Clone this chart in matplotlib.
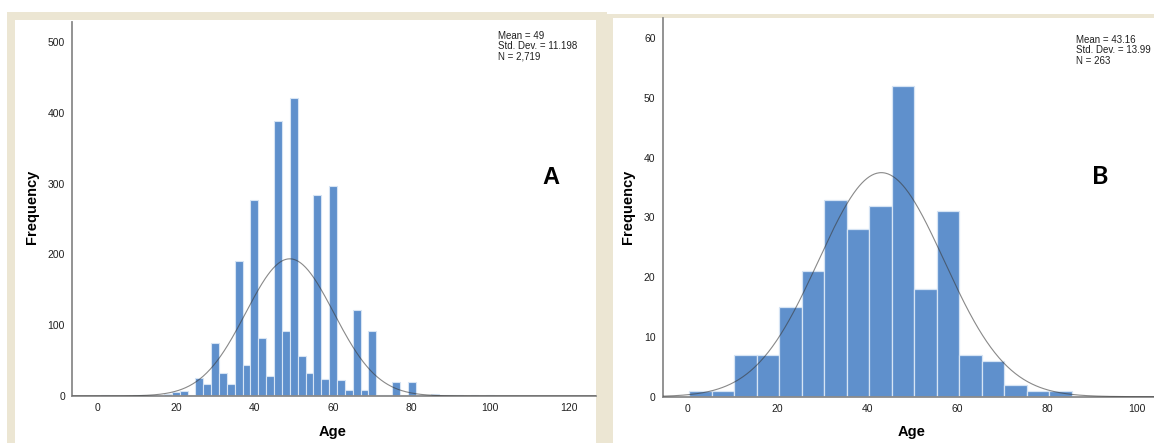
import numpy as np
import matplotlib
matplotlib.use("Agg")
import matplotlib.pyplot as plt
from matplotlib.patches import Rectangle

plt.rcParams['font.family'] = ['Liberation Sans', 'DejaVu Sans']

# ---------------- data ----------------
# Panel A: bins of width 2, centred on even ages
a_centers = [2, 10, 12, 14, 16, 18, 20, 22, 24, 26, 28, 30, 32, 34, 36, 38, 40, 42, 44,
             46, 48, 50, 52, 54, 56, 58, 60, 62, 64, 66, 68, 70, 72, 74, 76, 78, 80,
             82, 84, 86, 88, 90, 92, 96, 100]
a_counts = [1, 1, 1, 1, 2, 3, 6, 7, 1, 25, 17, 75, 33, 17, 190, 44, 277, 82, 28,
            388, 92, 421, 56, 32, 284, 24, 297, 23, 9, 121, 9, 92, 2, 2, 20, 1, 20,
            1, 1, 3, 1, 2, 1, 1, 1]
a_binwidth = 2
a_mean, a_sd, a_n = 49, 11.198, 2719
a_stats = "Mean = 49\nStd. Dev. = 11.198\nN = 2,719"
a_yticks = [0, 100, 200, 300, 400, 500]
a_xticks = [0, 20, 40, 60, 80, 100, 120]

# Panel B: bins of width 5
b_left_edges = [0.5, 5.5, 10.5, 15.5, 20.5, 25.5, 30.5, 35.5, 40.5, 45.5, 50.5, 55.5,
                60.5, 65.5, 70.5, 75.5, 80.5]
b_counts = [1, 1, 7, 7, 15, 21, 33, 28, 32, 52, 18, 31, 7, 6, 2, 1, 1]
b_binwidth = 5
b_mean, b_sd, b_n = 43.16, 13.99, 263
b_stats = "Mean = 43.16\nStd. Dev. = 13.99\nN = 263"
b_yticks = [0, 10, 20, 30, 40, 50, 60]
b_xticks = [0, 20, 40, 60, 80, 100]

# ---------------- figure ----------------
W, H = 1154, 443
fig = plt.figure(figsize=(W / 100, H / 100), dpi=100)
fig.patch.set_facecolor('white')

BEIGE = '#ECE6D3'
BAR = '#5F90CC'
BAR_EDGE = '#D6E4F4'


def px_rect(x0, y0, x1, y1, color, z):
    # pixel coords with top-left origin
    r = Rectangle((x0 / W, 1 - y1 / H), (x1 - x0) / W, (y1 - y0) / H,
                  transform=fig.transFigure, facecolor=color, edgecolor='none',
                  zorder=z)
    fig.patches.append(r)


# beige frames
px_rect(7, 12, 607, 443, BEIGE, -3)
px_rect(596, 14, 1154, 443, BEIGE, -3)
# white insides
px_rect(15, 20, 596, 443, 'white', -2)
px_rect(613, 18, 1154, 443, 'white', -2)


def make_axes(l, t, r, b):
    ax = fig.add_axes([l / W, 1 - b / H, (r - l) / W, (b - t) / H])
    ax.set_facecolor('none')
    ax.set_zorder(2)
    for s in ['top', 'right']:
        ax.spines[s].set_visible(False)
    for s in ['left', 'bottom']:
        ax.spines[s].set_color('#8A8A8A')
        ax.spines[s].set_linewidth(1.3)
    ax.tick_params(length=0, labelsize=7.5, labelcolor='#202020')
    ax.tick_params(axis='y', pad=5)
    ax.tick_params(axis='x', pad=5)
    return ax


def normal_curve(ax, mean, sd, n, bw, xlim):
    xs = np.linspace(xlim[0], xlim[1], 600)
    ys = n * bw * np.exp(-0.5 * ((xs - mean) / sd) ** 2) / (sd * np.sqrt(2 * np.pi))
    ax.plot(xs, ys, color='#3A3A3A', alpha=0.6, lw=0.8, zorder=3)


# ---------------- Panel A ----------------
axA = make_axes(72, 22, 596, 396)
xlimA = (-6.4, 126.9)
axA.bar(a_centers, a_counts, width=a_binwidth, color=BAR, edgecolor=BAR_EDGE,
        linewidth=0.8, zorder=2)
normal_curve(axA, a_mean, a_sd, a_n, a_binwidth, xlimA)
axA.set_xlim(*xlimA)
axA.set_ylim(0, 528.2)
axA.set_xticks(a_xticks)
axA.set_yticks(a_yticks)
fig.text(32 / W, 1 - 207 / H, 'Frequency', rotation=90, fontsize=10.5,
         fontweight='bold', ha='center', va='center')
fig.text(333 / W, 1 - 432 / H, 'Age', fontsize=10.5, fontweight='bold',
         ha='center', va='center')
fig.text(498 / W, 1 - 31 / H, a_stats, fontsize=7, ha='left', va='top',
         linespacing=1.05, color='#202020')
fig.text(551 / W, 1 - 178 / H, 'A', fontsize=17, fontweight='bold',
         ha='center', va='center')

# ---------------- Panel B ----------------
axB = make_axes(662.5, 18.5, 1154, 396.7)
xlimB = (-5.5, 103.8)
axB.bar(b_left_edges, b_counts, width=b_binwidth, align='edge', color=BAR,
        edgecolor=BAR_EDGE, linewidth=0.9, zorder=2)
normal_curve(axB, b_mean, b_sd, b_n, b_binwidth, xlimB)
axB.set_xlim(*xlimB)
axB.set_ylim(0, 63.3)
axB.set_xticks(b_xticks)
axB.set_yticks(b_yticks)
fig.text(628 / W, 1 - 207 / H, 'Frequency', rotation=90, fontsize=10.5,
         fontweight='bold', ha='center', va='center')
fig.text(912 / W, 1 - 432 / H, 'Age', fontsize=10.5, fontweight='bold',
         ha='center', va='center')
fig.text(1076 / W, 1 - 35 / H, b_stats, fontsize=7, ha='left', va='top',
         linespacing=1.05, color='#202020')
fig.text(1100 / W, 1 - 177 / H, 'B', fontsize=18, fontweight='bold',
         family=['Lato', 'DejaVu Sans'], ha='center', va='center')

fig.savefig('out.png', dpi=100, facecolor='white')
